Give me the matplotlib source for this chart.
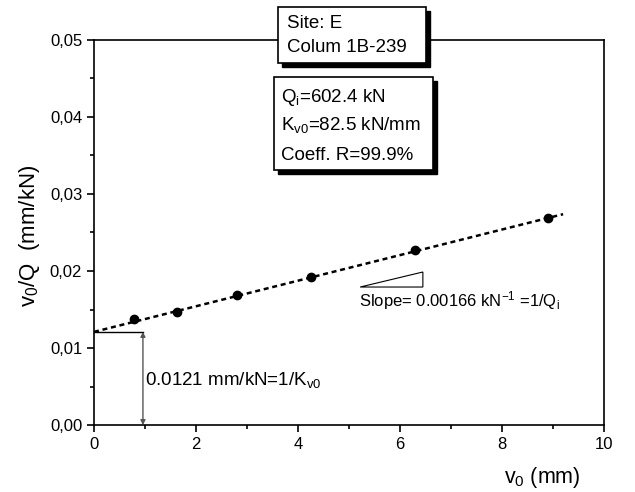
import matplotlib.pyplot as plt
import matplotlib.patches as patches
from matplotlib.ticker import MultipleLocator, FuncFormatter

plt.rcParams['font.family'] = ['Liberation Sans', 'DejaVu Sans']
plt.rcParams['mathtext.fontset'] = 'custom'
plt.rcParams['mathtext.rm'] = 'Liberation Sans'
plt.rcParams['mathtext.it'] = 'Liberation Sans'

# Dados medidos
v0 = [0.78, 1.63, 2.80, 4.25, 6.29, 8.90]
v0_over_q = [0.01377, 0.01468, 0.01688, 0.01922, 0.02273, 0.02688]

intercept = 0.0121
slope = 0.00166
fit_x = [0.0, 9.2]
fit_y = [intercept + slope * x for x in fit_x]

site_lines = ["Site: E", "Colum 1B-239"]
result_lines = ["Q$_{\\mathrm{i}}$=602.4 kN", "K$_{\\mathrm{v0}}$=82.5 kN/mm", "Coeff. R=99.9%"]

fig = plt.figure(figsize=(6.35, 4.92), dpi=100)
ax = fig.add_axes([0.148, 0.136, 0.803, 0.783])

ax.plot(fit_x, fit_y, color='black', linestyle=(0, (2, 1.5)), linewidth=1.8)
ax.plot(v0, v0_over_q, 'o', color='black', markersize=6)

# Intercepto 1/Kv0
ax.plot([0, 0.96], [intercept, intercept], color='black', linewidth=1)
ax.annotate('', xy=(0.96, 0), xytext=(0.96, intercept),
            arrowprops=dict(arrowstyle='<|-|>', color='#555555', lw=1,
                            mutation_scale=7, shrinkA=0, shrinkB=0))
ax.text(1.0, 0.0058, "0.0121 mm/kN=1/K$_{\\mathrm{v0}}$", fontsize=13.5, va='center')

# Triangulo da inclinação
tri = patches.Polygon([[5.22, 0.01792], [6.45, 0.01987], [6.45, 0.01792]],
                      closed=True, fill=False, edgecolor='black', linewidth=0.8)
ax.add_patch(tri)
ax.text(5.2, 0.0162, "Slope= 0.00166 kN$^{-1}$ =1/Q$_{\\mathrm{i}}$", fontsize=12, va='center')

ax.set_xlim(0, 10)
ax.set_ylim(0, 0.05)
ax.xaxis.set_major_locator(MultipleLocator(2))
ax.xaxis.set_minor_locator(MultipleLocator(1))
ax.yaxis.set_major_locator(MultipleLocator(0.01))
ax.yaxis.set_minor_locator(MultipleLocator(0.005))
ax.yaxis.set_major_formatter(FuncFormatter(lambda v, p: f"{v:.2f}".replace('.', ',')))
ax.tick_params(which='major', direction='out', length=5, width=1.2, labelsize=12)
ax.tick_params(which='minor', direction='out', length=3, width=1.2)
for s in ax.spines.values():
    s.set_linewidth(1.2)

ax.set_ylabel("v$_0$/Q  (mm/kN)", fontsize=16)
ax.yaxis.set_label_coords(-0.102, 0.49)
ax.set_xlabel("v$_0$ (mm)", fontsize=15.5)
ax.xaxis.set_label_coords(0.88, -0.103)

W, H = 635, 492


def caixa(x0, y0, x1, y1, linhas, x_txt, ys_txt, fs):
    # caixa com sombra, coordenadas em pixels a partir do topo
    sh = patches.Rectangle(((x0 + 4) / W, 1 - (y1 + 4) / H), (x1 - x0) / W, (y1 - y0) / H,
                           transform=fig.transFigure, facecolor='black', edgecolor='black', zorder=5)
    bx = patches.Rectangle((x0 / W, 1 - y1 / H), (x1 - x0) / W, (y1 - y0) / H,
                           transform=fig.transFigure, facecolor='white', edgecolor='black',
                           linewidth=1.2, zorder=6)
    fig.patches.extend([sh, bx])
    for t, yy in zip(linhas, ys_txt):
        fig.text(x_txt / W, 1 - yy / H, t, fontsize=fs, va='center', ha='left', zorder=7)


caixa(278, 7, 426, 63, site_lines, 287, [23, 47], 13.5)
caixa(274, 77, 433, 170, result_lines, 281, [97, 125, 155], 13.5)

fig.savefig("out.png", dpi=100)
